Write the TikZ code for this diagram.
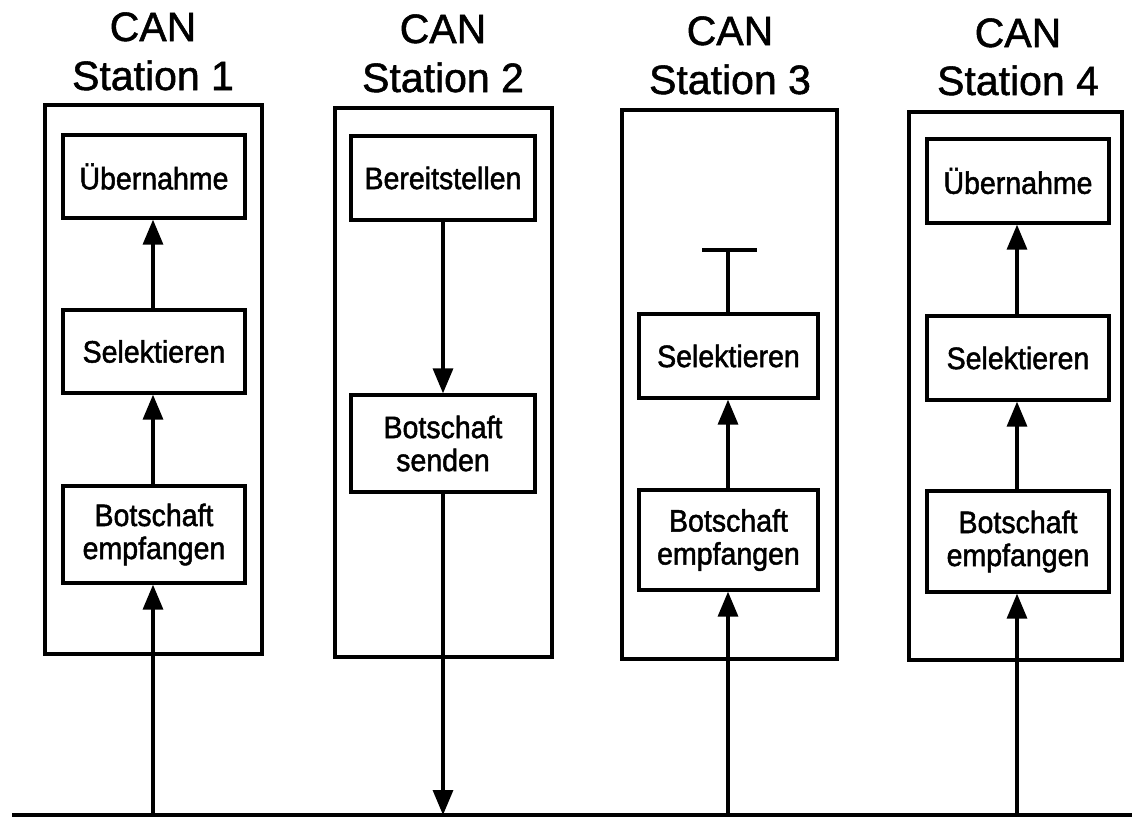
\documentclass[tikz,border=0pt]{standalone}
\usepackage{fontspec}
\setmainfont{Liberation Sans}
\newfontfamily\boxfont[FakeStretch=0.92,FakeBold=1.6]{Liberation Sans}
\newfontfamily\titlefont[FakeBold=1.3]{Liberation Sans}
\usetikzlibrary{arrows.meta}
\begin{document}
\begin{tikzpicture}[x=1pt,y=-1pt,
  outerbox/.style={draw,line width=3.3pt,rectangle,inner sep=0pt},
  procbox/.style={draw,line width=3.3pt,rectangle,inner sep=0pt,align=center,
    font=\boxfont\fontsize{31}{33}\selectfont},
  title/.style={anchor=base,inner sep=0pt,font=\titlefont\fontsize{41}{48}\selectfont},
  flow/.style={line width=3.3pt,-{Triangle[length=25pt,width=20pt]}},
  plain/.style={line width=3.3pt}]
\useasboundingbox (0,0) rectangle (1132,822);
% titles
\node[title] (t1a) at (153,41) {CAN};
\node[title] (t1b) at (153,90) {Station 1};
\node[title] (t2a) at (443,43) {CAN};
\node[title] (t2b) at (443,92) {Station 2};
\node[title] (t3a) at (730,45) {CAN};
\node[title] (t3b) at (730,94) {Station 3};
\node[title] (t4a) at (1018,47) {CAN};
\node[title] (t4b) at (1018,95) {Station 4};
% outer boxes
\node[outerbox,minimum width=217,minimum height=549] (s1) at (153.5,379.5) {};
\node[outerbox,minimum width=217,minimum height=549] (s2) at (443.5,382.5) {};
\node[outerbox,minimum width=215,minimum height=549] (s3) at (729.5,384.5) {};
\node[outerbox,minimum width=213,minimum height=548] (s4) at (1015.5,386) {};
% station 1
\node[procbox,minimum width=182,minimum height=83] (ueb1) at (154,176.5) {Übernahme};
\node[procbox,minimum width=182,minimum height=83] (sel1) at (154,351.5) {Selektieren};
\node[procbox,minimum width=182,minimum height=97] (bot1) at (154,534.5) {Botschaft\\empfangen};
% station 2
\node[procbox,minimum width=184,minimum height=84] (ber2) at (443,178) {Bereitstellen};
\node[procbox,minimum width=184,minimum height=97] (snd2) at (443,443.5) {Botschaft\\senden};
% station 3
\node[procbox,minimum width=179,minimum height=84] (sel3) at (728.5,356) {Selektieren};
\node[procbox,minimum width=179,minimum height=100] (bot3) at (728.5,540) {Botschaft\\empfangen};
% station 4
\node[procbox,minimum width=182,minimum height=84] (ueb4) at (1018,181) {Übernahme};
\node[procbox,minimum width=182,minimum height=84] (sel4) at (1018,358) {Selektieren};
\node[procbox,minimum width=182,minimum height=101] (bot4) at (1018,541.5) {Botschaft\\empfangen};
% bus
\coordinate (busL) at (12,815);
\coordinate (busR) at (1132,815);
\draw[plain] (busL) -- (busR);
\coordinate (b1) at (153,815);
\coordinate (b2) at (443,815);
\coordinate (b3) at (728,815);
\coordinate (b4) at (1017,815);
% connectors station 1
\draw[flow] (b1) -- (b1 |- bot1.south);
\draw[flow] (bot1.north -| b1) -- (b1 |- sel1.south);
\draw[flow] (sel1.north -| b1) -- (b1 |- ueb1.south);
% station 2
\draw[flow] (ber2.south) -- (snd2.north);
\draw[flow] (snd2.south) -- (b2);
% station 3
\coordinate (t3) at (728,250);
\coordinate (t3l) at (702,250);
\coordinate (t3r) at (757,250);
\draw[flow] (b3) -- (b3 |- bot3.south);
\draw[flow] (bot3.north -| b3) -- (b3 |- sel3.south);
\draw[plain] (sel3.north -| b3) -- (t3);
\draw[plain] (t3l) -- (t3r);
% station 4
\draw[flow] (b4) -- (b4 |- bot4.south);
\draw[flow] (bot4.north -| b4) -- (b4 |- sel4.south);
\draw[flow] (sel4.north -| b4) -- (b4 |- ueb4.south);
\end{tikzpicture}
\end{document}
